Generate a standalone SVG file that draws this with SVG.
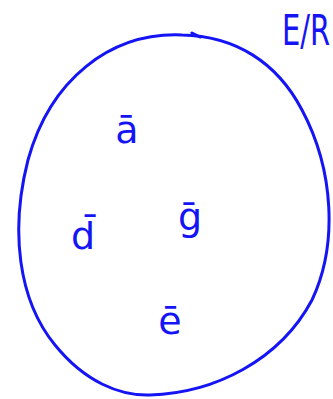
<svg xmlns="http://www.w3.org/2000/svg" width="333" height="399" viewBox="0 0 333 399">
<style>
.lbl{font-family:"DejaVu Sans","Liberation Sans",sans-serif;font-size:38px;fill:#1414f5;text-anchor:middle}
.curve{fill:none;stroke:#1414f5;stroke-width:3;stroke-linecap:round}
</style>
<rect width="333" height="399" fill="#fff"/>
<g id="set-E-R">
<path class="curve" d="M182,35 C110,32 50,80 28,160 C10,230 18,300 55,345 C85,382 120,396 150,395 C215,393 280,360 312,300 C338,245 334,170 302,110 C277,62 235,36 182,35 Z"/>
<path class="curve" d="M192,33 L200,37"/>
</g>
<g id="label-E-R"><text class="lbl" transform="translate(282,45) scale(1,1.5)" style="text-anchor:start;font-size:29px">E/R</text></g>
<g id="node-a"><text class="lbl" x="127" y="143">ā</text></g>
<g id="node-d"><text class="lbl" x="83" y="249">d̄</text></g>
<g id="node-g"><text class="lbl" x="190" y="230">ḡ</text></g>
<g id="node-e"><text class="lbl" x="170" y="334">ē</text></g>
</svg>
